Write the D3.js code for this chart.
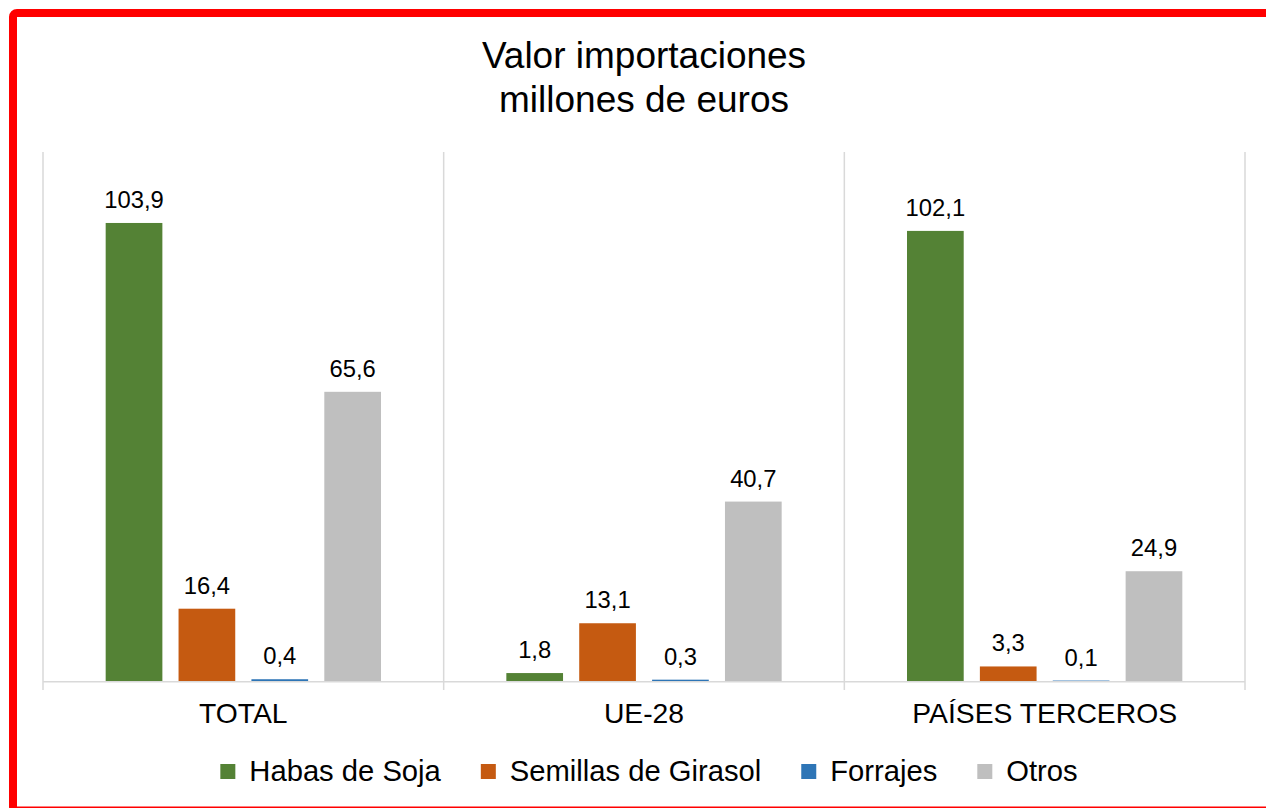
<!DOCTYPE html>
<html>
<head>
<meta charset="utf-8">
<script src="https://cdn.jsdelivr.net/npm/d3@7"></script>
<style>
  html, body { margin: 0; padding: 0; background: #fff; }
  svg { display: block; font-family: "Liberation Sans", Arial, sans-serif; }
</style>
</head>
<body>
<svg id="chart" width="1266" height="808"></svg>
<script>
// Import value by origin, millions of euros
const categories = ["TOTAL", "UE-28", "PAÍSES TERCEROS"];
const series = ["Habas de Soja", "Semillas de Girasol", "Forrajes", "Otros"];
const habasDeSoja = [103.9, 1.8, 102.1];
const semillasDeGirasol = [16.4, 13.1, 3.3];
const forrajes = [0.4, 0.3, 0.1];
const otros = [65.6, 40.7, 24.9];
const colors = ["#548235", "#c55a11", "#2e75b6", "#bfbfbf"];
const titleLines = ["Valor importaciones", "millones de euros"];

const values = [habasDeSoja, semillasDeGirasol, forrajes, otros];
const rows = categories.map((c, i) => ({
  cat: c,
  vals: series.map((s, j) => ({ series: s, value: values[j][i], color: colors[j] }))
}));

const svg = d3.select("#chart");
const W = 1266, H = 808;
const plot = { left: 43, right: 1245, top: 152, bottom: 681 };

svg.append("rect").attr("width", W).attr("height", H).attr("fill", "#fff");

// Frame around the chart
svg.append("rect")
  .attr("x", 13).attr("y", 13)
  .attr("width", 1320).attr("height", 797.6)
  .attr("rx", 4)
  .attr("fill", "none")
  .attr("stroke", "#ff0000")
  .attr("stroke-width", 8);

// Title
svg.append("text")
  .attr("x", (plot.left + plot.right) / 2)
  .attr("y", 68)
  .attr("text-anchor", "middle")
  .attr("font-size", 37)
  .attr("fill", "#000")
  .selectAll("tspan")
  .data(titleLines)
  .join("tspan")
  .attr("x", (plot.left + plot.right) / 2)
  .attr("dy", (d, i) => i === 0 ? 0 : 44)
  .text(d => d);

const x = d3.scaleBand().domain(categories).range([plot.left, plot.right]).paddingInner(0).paddingOuter(0);
const xs = d3.scaleBand().domain(series).range([0, x.bandwidth()]).paddingInner(0.222).paddingOuter(0.86);
const y = d3.scaleLinear().domain([0, 120]).range([plot.bottom, plot.top]);

// Category separators
const seps = categories.map(c => x(c)).concat([plot.right]);
svg.append("g").selectAll("line")
  .data(seps)
  .join("line")
  .attr("x1", d => d).attr("x2", d => d)
  .attr("y1", plot.top).attr("y2", plot.bottom + 9)
  .attr("stroke", "#d9d9d9")
  .attr("stroke-width", 1.5);

// Baseline
svg.append("line")
  .attr("x1", plot.left).attr("x2", plot.right)
  .attr("y1", plot.bottom + 0.75).attr("y2", plot.bottom + 0.75)
  .attr("stroke", "#d9d9d9")
  .attr("stroke-width", 1.5);

const groups = svg.append("g").selectAll("g")
  .data(rows)
  .join("g")
  .attr("transform", d => `translate(${x(d.cat)},0)`);

groups.selectAll("rect")
  .data(d => d.vals)
  .join("rect")
  .attr("x", d => xs(d.series))
  .attr("width", xs.bandwidth())
  .attr("y", d => y(d.value))
  .attr("height", d => y(0) - y(d.value))
  .attr("fill", d => d.color);

const fmt = v => d3.format(".1f")(v).replace(".", ",");
groups.selectAll("text")
  .data(d => d.vals)
  .join("text")
  .attr("x", d => xs(d.series) + xs.bandwidth() / 2)
  .attr("y", d => y(d.value) - 15)
  .attr("text-anchor", "middle")
  .attr("font-size", 23.8)
  .attr("fill", "#000")
  .text(d => fmt(d.value));

// Category labels
svg.append("g").selectAll("text")
  .data(categories)
  .join("text")
  .attr("x", d => x(d) + x.bandwidth() / 2)
  .attr("y", 723)
  .attr("text-anchor", "middle")
  .attr("font-size", 28.3)
  .attr("fill", "#000")
  .text(d => d);

// Legend
const legend = svg.append("g");
const items = legend.selectAll("g")
  .data(series)
  .join("g");
items.append("rect")
  .attr("width", 15).attr("height", 15)
  .attr("y", 764)
  .attr("fill", (d, i) => colors[i]);
items.append("text")
  .attr("x", 29)
  .attr("y", 781)
  .attr("font-size", 29.2)
  .attr("fill", "#000")
  .text(d => d);
let offsets = [], cur = 0;
items.each(function() {
  const w = d3.select(this).select("text").node().getComputedTextLength();
  offsets.push(cur);
  cur += 29 + w + 40;
});
const total = cur - 40;
const start = 649 - total / 2;
items.attr("transform", (d, i) => `translate(${start + offsets[i]},0)`);
</script>
</body>
</html>
